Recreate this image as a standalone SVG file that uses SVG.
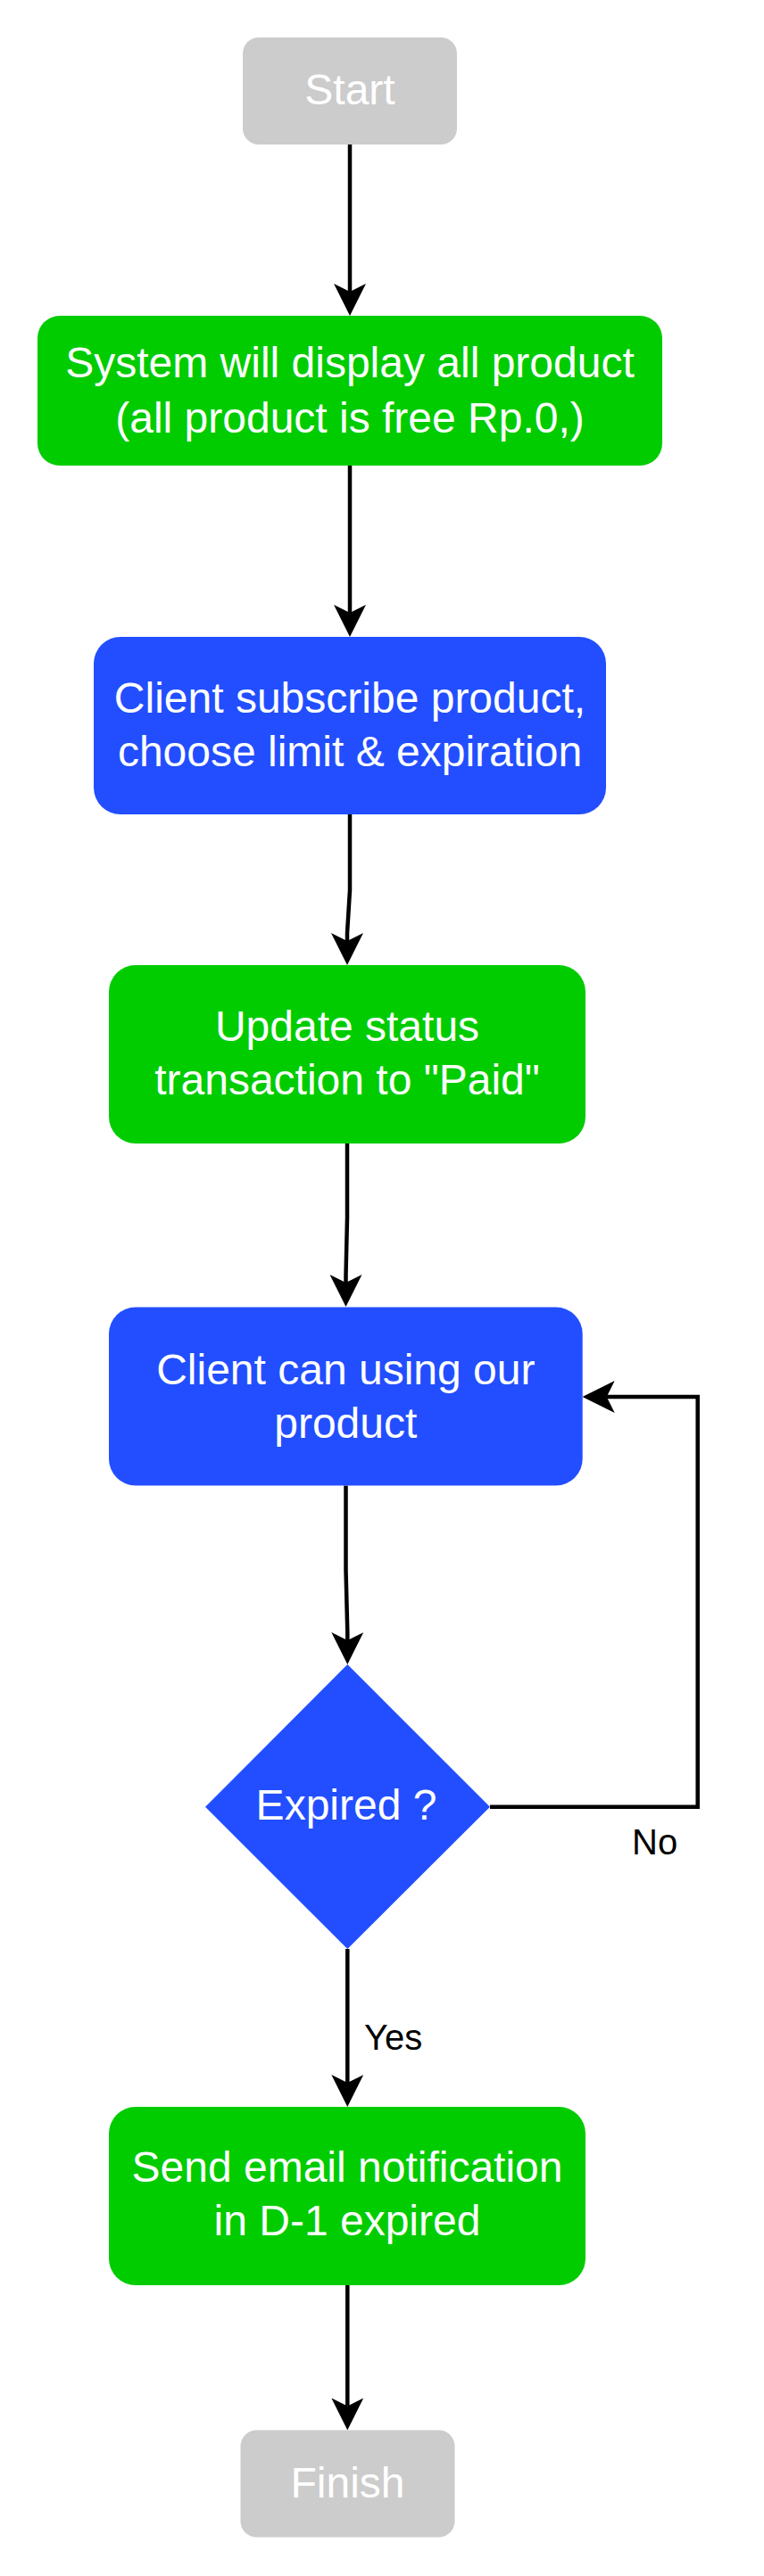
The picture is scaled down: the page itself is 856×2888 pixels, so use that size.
<svg xmlns="http://www.w3.org/2000/svg" width="856" height="2888" viewBox="0 0 856 2888">
  <style>
    .lbl { font-family: "Liberation Sans", Arial, sans-serif; font-size: 48px; fill: #FFFFFF; text-anchor: middle; }
    .edge-lbl { font-family: "Liberation Sans", Arial, sans-serif; font-size: 40px; fill: #000000; }
    .term { fill: #CCCCCC; }
    .green { fill: #00CC00; }
    .blue { fill: #224EFF; }
    .conn { fill: none; stroke: #000000; stroke-width: 4.5; marker-end: url(#arrow); }
  </style>
  <defs>
    <marker id="arrow" markerUnits="userSpaceOnUse" viewBox="0 0 36 36" refX="9" refY="18" markerWidth="36" markerHeight="36" orient="auto">
      <path d="M36,18 L0,0 L9,18 L0,36 Z" fill="#000000"/>
    </marker>
  </defs>
  <rect width="856" height="2888" fill="#FFFFFF"/>

  <g id="connectors">
    <path class="conn" d="M392,162 V327"/>
    <path class="conn" d="M392,522 V687"/>
    <path class="conn" d="M392,913 V998 L389,1046 V1055"/>
    <path class="conn" d="M389,1282 V1365 L387.5,1430 V1438"/>
    <path class="conn" d="M387.5,1665.5 V1760 L389.3,1830 V1839"/>
    <path class="conn" d="M389.3,2185 V2335"/>
    <path class="conn" d="M549,2025.7 H781.7 V1566 H679.7"/>
    <path class="conn" d="M389.3,2561.5 V2697.5"/>
    <text class="edge-lbl" x="408" y="2298">Yes</text>
    <text class="edge-lbl" x="708" y="2079">No</text>
  </g>

  <g id="start">
    <rect class="term" x="272" y="42" width="240" height="120" rx="18" ry="18"/>
    <text class="lbl" x="392" y="117">Start</text>
  </g>

  <g id="display-products">
    <rect class="green" x="42" y="354" width="700" height="168" rx="25" ry="25"/>
    <text class="lbl" x="392" y="423">System will display all product</text>
    <text class="lbl" x="392" y="485">(all product is free Rp.0,)</text>
  </g>

  <g id="subscribe">
    <rect class="blue" x="105" y="714" width="574" height="199" rx="30" ry="30"/>
    <text class="lbl" x="392" y="799">Client subscribe product,</text>
    <text class="lbl" x="392" y="859">choose limit &amp; expiration</text>
  </g>

  <g id="update-status">
    <rect class="green" x="122" y="1082" width="534" height="200" rx="30" ry="30"/>
    <text class="lbl" x="389" y="1167">Update status</text>
    <text class="lbl" x="389" y="1227">transaction to "Paid"</text>
  </g>

  <g id="using-product">
    <rect class="blue" x="122" y="1465.5" width="530.7" height="200" rx="30" ry="30"/>
    <text class="lbl" x="387.3" y="1552">Client can using our</text>
    <text class="lbl" x="387.3" y="1612">product</text>
  </g>

  <g id="expired-decision">
    <polygon class="blue" points="389.3,1866 549,2025.7 389.3,2185 230,2025.7"/>
    <text class="lbl" x="388" y="2040">Expired ?</text>
  </g>

  <g id="send-email">
    <rect class="green" x="122" y="2362" width="534" height="200" rx="30" ry="30"/>
    <text class="lbl" x="389" y="2446">Send email notification</text>
    <text class="lbl" x="389" y="2506">in D-1 expired</text>
  </g>

  <g id="finish">
    <rect class="term" x="269.5" y="2724.5" width="240" height="120" rx="18" ry="18"/>
    <text class="lbl" x="389.5" y="2800">Finish</text>
  </g>
</svg>
